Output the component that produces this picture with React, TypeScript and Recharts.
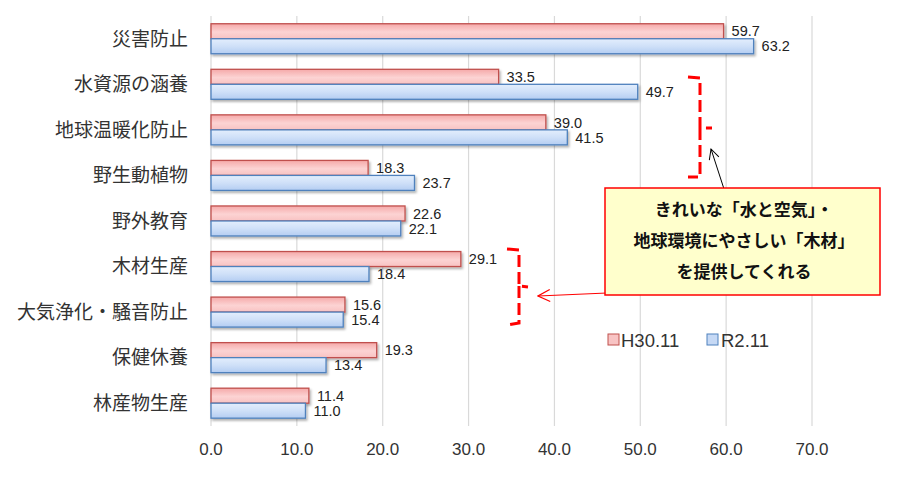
import React from 'react';
import { BarChart, Bar, XAxis, YAxis, CartesianGrid, LabelList } from 'recharts';

const categories = ['災害防止', '水資源の涵養', '地球温暖化防止', '野生動植物', '野外教育', '木材生産', '大気浄化・騒音防止', '保健休養', '林産物生産'];
const h30Values = [59.7, 33.5, 39.0, 18.3, 22.6, 29.1, 15.6, 19.3, 11.4];
const r2Values = [63.2, 49.7, 41.5, 23.7, 22.1, 18.4, 15.4, 13.4, 11.0];
const xTicks = [0, 10, 20, 30, 40, 50, 60, 70];
const seriesNames = ['H30.11', 'R2.11'];
const calloutLines = ['きれいな「水と空気」・', '地球環境にやさしい「木材」', 'を提供してくれる'];

const data = categories.map((name, i) => ({ name, h30: h30Values[i], r2: r2Values[i] }));

const NUM_FONT = '"Liberation Sans", Arial, "Noto Sans CJK JP", sans-serif';
const JP_FONT = '"Noto Sans CJK JP", "Liberation Sans", sans-serif';

const RED_STROKE = '#c0504d';
const BLUE_STROKE = '#4f81bd';

const makeShape = (gradId: string, stroke: string) => (props: any) => {
  const { x, y, width, height } = props;
  if (!width || width <= 0) return <g />;
  return (
    <rect
      x={x}
      y={y}
      width={width}
      height={height}
      fill={`url(#${gradId})`}
      stroke={stroke}
      strokeWidth={1.3}
      filter="url(#barShadow)"
    />
  );
};

const fmt = (v: any) => Number(v).toFixed(1);

const Overlay: React.FC = () => (
  <svg width={900} height={496} style={{ position: 'absolute', left: 0, top: 0, pointerEvents: 'none' }}>
    <defs>
      <marker id="headBlack" markerWidth="12" markerHeight="12" refX="11" refY="6" orient="auto" markerUnits="userSpaceOnUse">
        <path d="M1,1 L11,6 L1,11" fill="none" stroke="#000" strokeWidth="1" />
      </marker>
      <marker id="headRed" markerWidth="14" markerHeight="14" refX="13" refY="7" orient="auto" markerUnits="userSpaceOnUse">
        <path d="M1,1 L13,7 L1,13" fill="none" stroke="#ff0000" strokeWidth="1.2" />
      </marker>
    </defs>

    {/* brackets */}
    <path d="M688 77 L700 78 L700 128 L712 128 M700 128 L700 177 L688 177" fill="none" stroke="#ff0000" strokeWidth={3} strokeDasharray="12 5" />
    <path d="M507 249 L519 250 L519 286 L528 287 M519 286 L519 323 L507 325" fill="none" stroke="#ff0000" strokeWidth={3} strokeDasharray="12 5" />

    {/* arrows */}
    <line x1={724} y1={189} x2={711} y2={149} stroke="#000" strokeWidth={1} markerEnd="url(#headBlack)" />
    <line x1={607} y1={293} x2={538} y2={296} stroke="#ff0000" strokeWidth={1.2} markerEnd="url(#headRed)" />

    {/* callout */}
    <rect x={605} y={188} width={275} height={107} fill="#ffffcc" stroke="#ff0000" strokeWidth={1.5} />
    {calloutLines.map((t, i) => (
      <text key={t} x={744} y={216 + i * 31} textAnchor="middle" fontSize={17} fontWeight="bold" fill="#111" fontFamily={JP_FONT}>
        {t}
      </text>
    ))}

    {/* legend */}
    <rect x={608} y={334} width={11} height={11} fill="#f8c4c4" stroke={RED_STROKE} strokeWidth={1} />
    <text x={621} y={347} fontSize={18.5} fill="#333" fontFamily={NUM_FONT}>{seriesNames[0]}</text>
    <rect x={707} y={334} width={11} height={11} fill="#c6d9f5" stroke={BLUE_STROKE} strokeWidth={1} />
    <text x={721} y={347} fontSize={18.5} fill="#333" fontFamily={NUM_FONT}>{seriesNames[1]}</text>
  </svg>
);

const App: React.FC = () => {
  return (
    <div style={{ position: 'absolute', left: 0, top: 0, width: 900, height: 496, background: '#fff' }}>
      <BarChart
        width={900}
        height={496}
        data={data}
        layout="vertical"
        margin={{ top: 16, right: 88, bottom: 40, left: 0 }}
        barCategoryGap="17%"
        barGap={0}
      >
        <defs>
          <linearGradient id="redGrad" x1="0" y1="0" x2="0" y2="1">
            <stop offset="0%" stopColor="#f5a9a9" />
            <stop offset="55%" stopColor="#fcd3d3" />
            <stop offset="100%" stopColor="#f8c2c2" />
          </linearGradient>
          <linearGradient id="blueGrad" x1="0" y1="0" x2="0" y2="1">
            <stop offset="0%" stopColor="#e3eefd" />
            <stop offset="50%" stopColor="#cfe0f8" />
            <stop offset="100%" stopColor="#b4cdf2" />
          </linearGradient>
          <filter id="barShadow" x="-5%" y="-30%" width="115%" height="180%">
            <feDropShadow dx="1.5" dy="2" stdDeviation="1" floodColor="#000" floodOpacity="0.3" />
          </filter>
        </defs>
        <CartesianGrid horizontal={false} stroke="#d9d9d9" strokeWidth={1.2} />
        <XAxis
          type="number"
          domain={[0, 70]}
          ticks={xTicks}
          tickFormatter={fmt}
          axisLine={false}
          tickLine={false}
          tickSize={0}
          tickMargin={17}
          height={30}
          interval={0}
          tick={{ fontSize: 17, fill: '#333', fontFamily: NUM_FONT }}
        />
        <YAxis
          type="category"
          dataKey="name"
          width={211}
          axisLine={false}
          tickLine={false}
          tickSize={0}
          tickMargin={23}
          interval={0}
          tick={{ fontSize: 19, fill: '#333', fontFamily: JP_FONT }}
        />
        <Bar dataKey="h30" name={seriesNames[0]} isAnimationActive={false} shape={makeShape('redGrad', RED_STROKE)}>
          <LabelList dataKey="h30" position="right" offset={8} formatter={fmt} style={{ fontSize: 14.5, fill: '#222', fontFamily: NUM_FONT }} />
        </Bar>
        <Bar dataKey="r2" name={seriesNames[1]} isAnimationActive={false} shape={makeShape('blueGrad', BLUE_STROKE)}>
          <LabelList dataKey="r2" position="right" offset={8} formatter={fmt} style={{ fontSize: 14.5, fill: '#222', fontFamily: NUM_FONT }} />
        </Bar>
      </BarChart>
      <Overlay />
    </div>
  );
};

export default App;
